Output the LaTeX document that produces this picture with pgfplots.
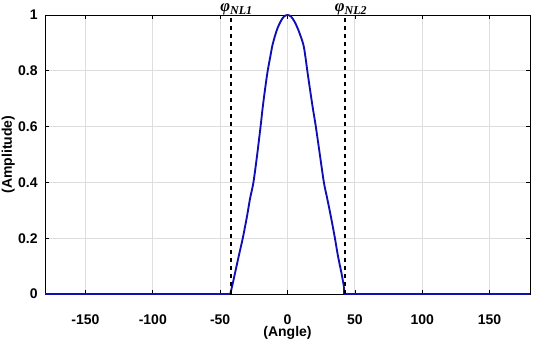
\documentclass[border=0pt]{standalone}
\usepackage{pgfplots}
\pgfplotsset{compat=1.18}
\usetikzlibrary{calc}
\usepackage{fontspec}
\setmainfont{Liberation Sans}
\newfontfamily\serifphi{Liberation Serif}
\definecolor{curveblue}{RGB}{15,15,180}
\definecolor{gridgray}{RGB}{222,222,222}
\newcommand{\phifont}{\serifphi\bfseries\itshape\fontsize{12.5}{13}\selectfont}
\newcommand{\subfont}{\fontsize{9}{10}\selectfont}
\newcommand{\labfont}{\fontsize{10.5}{12}\selectfont\bfseries}
\begin{document}
\begin{tikzpicture}
\begin{axis}[
  name=ax,
  scale only axis,
  width=363.75pt, height=209.25pt,
  xmin=-180, xmax=180, ymin=0, ymax=1,
  xtick={-150,-100,-50,0,50,100,150},
  ytick={0,0.2,0.4,0.6,0.8,1},
  yticklabels={0,0.2,0.4,0.6,0.8,1},
  tick pos=both, tick align=inside,
  major tick length=3pt,
  grid=major,
  major grid style={gridgray, line width=0.6pt},
  axis line style={black, line width=0.6pt},
  tick style={black, line width=0.5pt},
  /pgf/number format/assume math mode=true,
  ticklabel style={font=\labfont},
  xticklabel style={yshift=-12pt},
  yticklabel style={xshift=-2pt},
  clip=false,
]
\addplot[curveblue, line width=1.4pt] coordinates {(-180,0) (-42.5,0)};
\addplot[curveblue, line width=1.4pt] coordinates {(42,0) (180,0)};
\addplot[curveblue, line width=1.4pt, smooth] coordinates {
(-42.5,0) (-41,0.03) (-39,0.074) (-36,0.14) (-33.2,0.2) (-30,0.28)
(-27.8,0.342) (-25.3,0.4) (-22.5,0.5) (-19.9,0.604) (-18.4,0.669) (-16.5,0.74)
(-14.7,0.8) (-12.8,0.85) (-11,0.895) (-8,0.945) (-5,0.978) (-2.5,0.995) (0,1)
(2.5,0.995) (5,0.978) (8,0.947) (11.7,0.895) (13.3,0.85) (14.7,0.8) (16.5,0.74)
(18.7,0.669) (20.9,0.604) (24,0.5) (27,0.4) (29.5,0.342) (32.5,0.27)
(35.2,0.2) (37.5,0.135) (40.1,0.074) (41.9,0.026)
};
\addplot[curveblue, line width=1.4pt] coordinates {(41.9,0.026) (42,0)};
\addplot[black, dashed, line width=1.5pt] coordinates {(-42,0) (-42,1)};
\addplot[black, dashed, line width=1.5pt] coordinates {(43,0) (43,1)};
\node[anchor=base, inner sep=0pt, yshift=2.3pt, font=\phifont] at (axis cs:-38,1) {φ\raisebox{-0.3ex}{\subfont NL1}};
\node[anchor=base, inner sep=0pt, yshift=2.3pt, font=\phifont] at (axis cs:47,1) {φ\raisebox{-0.3ex}{\subfont NL2}};
\end{axis}
\node[anchor=center, font=\labfont] at ($(ax.south)+(0,-29.5pt)$) {(Angle)};
\node[anchor=center, rotate=90, font=\labfont] at ($(ax.west)+(-27.5pt,0)$) {(Amplitude)};
\pgfresetboundingbox
\path[use as bounding box] ($(ax.south west)+(-33.75pt,-34.5pt)$) rectangle ($(ax.north east)+(4.5pt,11.25pt)$);
\end{tikzpicture}
\end{document}
